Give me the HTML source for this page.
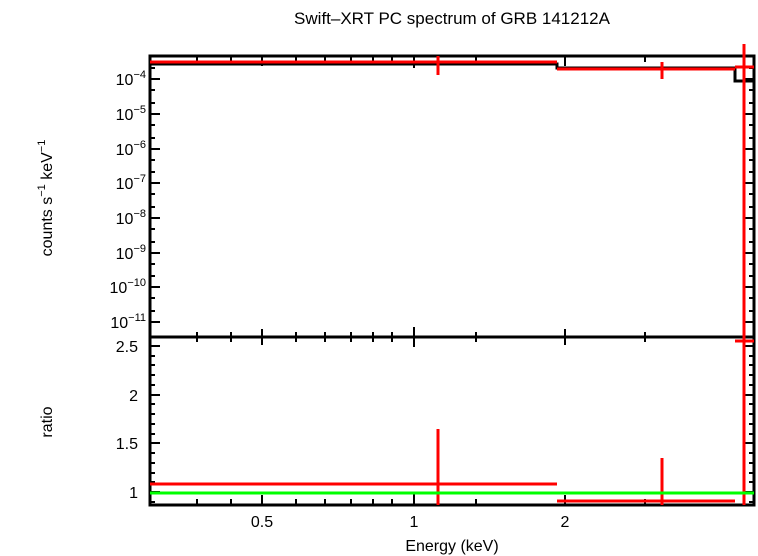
<!DOCTYPE html>
<html><head><style>body{margin:0;background:#fff}svg{display:block}</style></head><body>
<svg width="758" height="556" xmlns="http://www.w3.org/2000/svg" font-family="Liberation Sans, sans-serif">
<rect width="758" height="556" fill="#fff"/>
<text x="452" y="24" font-size="17" text-anchor="middle">Swift–XRT PC spectrum of GRB 141212A</text>
<g stroke="#000" stroke-width="3" fill="none">
<rect x="150" y="56" width="604" height="449"/>
<line x1="150" y1="337" x2="754" y2="337"/>
</g>
<g stroke="#000" stroke-width="2">
<path d="M262 56v10M414 56v12M565 56v10M262 337v-8M262 337v8M414 327v20M565 329v16M262 505v-10M414 505v-12M565 505v-10"/>
<path d="M197 56v6M231 56v6M296 56v6M325 56v6M351 56v6M373 56v6M392 56v6M476 56v6M645 56v6M197 337v-5M231 337v-5M296 337v-5M325 337v-5M351 337v-5M373 337v-5M392 337v-5M476 337v-5M645 337v-5M197 337v5M231 337v5M296 337v5M325 337v5M351 337v5M373 337v5M392 337v5M476 337v5M645 337v5M197 505v-6M231 505v-6M296 505v-6M325 505v-6M351 505v-6M373 505v-6M392 505v-6M476 505v-6M645 505v-6"/>
<path d="M150 79h10M150 114h10M150 149h10M150 183h10M150 218h10M150 253h10M150 287h10M150 322h10M754 79h-10M754 114h-10M754 149h-10M754 183h-10M754 218h-10M754 253h-10M754 287h-10M754 322h-10"/>
<path d="M150 68h5M150 90h5M150 103h5M150 125h5M150 138h5M150 160h5M150 172h5M150 194h5M150 207h5M150 229h5M150 242h5M150 264h5M150 276h5M150 298h5M150 311h5M754 68h-5M754 90h-5M754 103h-5M754 125h-5M754 138h-5M754 160h-5M754 172h-5M754 194h-5M754 207h-5M754 229h-5M754 242h-5M754 264h-5M754 276h-5M754 298h-5M754 311h-5"/>
<path d="M150 346h10M150 395h10M150 443h10M150 492h10M754 346h-10M754 395h-10M754 443h-10M754 492h-10"/>
<path d="M150 356h5M150 365h5M150 375h5M150 385h5M150 404h5M150 414h5M150 424h5M150 434h5M150 453h5M150 463h5M150 473h5M150 482h5M150 502h5M754 356h-5M754 365h-5M754 375h-5M754 385h-5M754 404h-5M754 414h-5M754 424h-5M754 434h-5M754 453h-5M754 463h-5M754 473h-5M754 482h-5M754 502h-5"/>
</g>
<g font-size="16" text-anchor="end">
<text x="146" y="85">10<tspan font-size="11" dy="-7">−4</tspan></text>
<text x="146" y="120">10<tspan font-size="11" dy="-7">−5</tspan></text>
<text x="146" y="155">10<tspan font-size="11" dy="-7">−6</tspan></text>
<text x="146" y="189">10<tspan font-size="11" dy="-7">−7</tspan></text>
<text x="146" y="224">10<tspan font-size="11" dy="-7">−8</tspan></text>
<text x="146" y="259">10<tspan font-size="11" dy="-7">−9</tspan></text>
<text x="146" y="293">10<tspan font-size="11" dy="-7">−10</tspan></text>
<text x="146" y="328">10<tspan font-size="11" dy="-7">−11</tspan></text>
<text x="138" y="352">2.5</text>
<text x="138" y="401">2</text>
<text x="138" y="449">1.5</text>
<text x="138" y="498">1</text>
</g>
<g font-size="16" text-anchor="middle">
<text x="262" y="527">0.5</text>
<text x="414" y="527">1</text>
<text x="565" y="527">2</text>
<text x="452" y="551">Energy (keV)</text>
<text transform="translate(52,198) rotate(-90)">counts s<tspan font-size="11" dy="-7">−1</tspan><tspan dy="7"> keV</tspan><tspan font-size="11" dy="-7">−1</tspan></text>
<text transform="translate(52,422) rotate(-90)">ratio</text>
</g>
<path d="M150 64H557V68H735V81H754" stroke="#000" stroke-width="3" fill="none"/>
<g stroke="#f00" stroke-width="3" fill="none">
<path d="M150 62H557M438 56V75M557 69H735M662 62V79M735 67H754M744 44V337"/>
<path d="M150 484H557M438 429V505M557 501H735M662 458V505M735 341H754M744 337V505"/>
</g>
<line x1="150" y1="493" x2="754" y2="493" stroke="#0f0" stroke-width="3"/>
</svg>
</body></html>
